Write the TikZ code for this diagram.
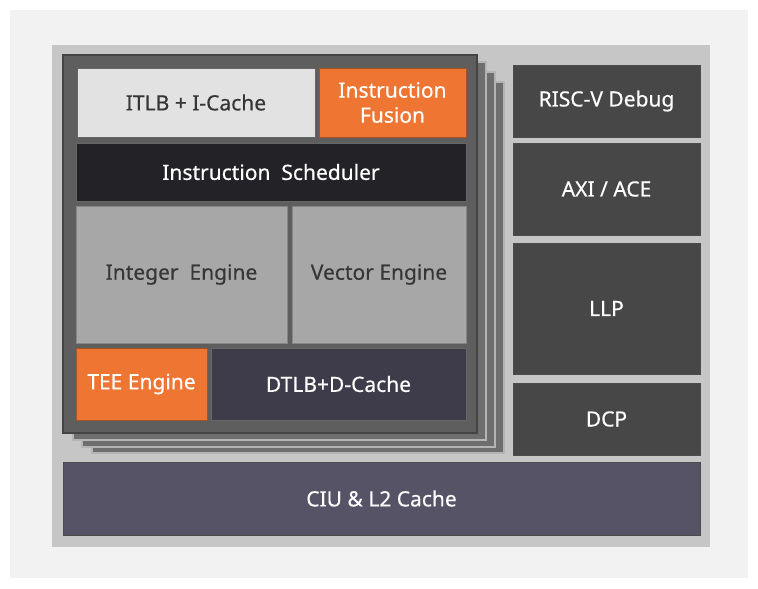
\documentclass[tikz,border=0pt]{standalone}
\usepackage{fontspec}
\setmainfont{Noto Sans}[FakeBold=0.4]
\definecolor{bgl}{HTML}{F2F2F2}
\definecolor{panel}{HTML}{C6C6C6}
\definecolor{core}{HTML}{5E5E5E}
\definecolor{coreedge}{HTML}{444444}
\definecolor{layer}{HTML}{6E6E6E}
\definecolor{layeredge}{HTML}{B4B4B4}
\definecolor{lightblk}{HTML}{E2E2E2}
\definecolor{orangeblk}{HTML}{EF7532}
\definecolor{schedblk}{HTML}{232327}
\definecolor{engblk}{HTML}{A7A7A7}
\definecolor{dtlbblk}{HTML}{3E3C4B}
\definecolor{sideblk}{HTML}{474747}
\definecolor{ciublk}{HTML}{565367}
\definecolor{darktext}{HTML}{363636}
\tikzset{
  blk/.style={rectangle, inner sep=0pt, outer sep=0pt, align=center,
    font=\fontsize{21}{25}\selectfont, draw=black!60, line width=0.8pt},
  whitetext/.style={text=white},
  greytext/.style={text=darktext},
  layerbox/.style={fill=layer, draw=layeredge, line width=1.5pt},
}
\begin{document}
\begin{tikzpicture}[x=1pt,y=-1pt]
\useasboundingbox (0,0) rectangle (758,589);
\fill[white] (0,0) rectangle (758,589);
\fill[bgl] (10,10) rectangle (748,578);
\fill[panel] (52,45) rectangle (710,547);
% stacked core layers
\draw[layerbox] (92,82) rectangle (504,453);
\draw[layerbox] (82,72) rectangle (495,447);
\draw[layerbox] (73,62) rectangle (486,440);
\draw[fill=core, draw=coreedge, line width=2pt] (63,55) rectangle (477,433);
% core blocks
\node[blk, greytext, fill=lightblk, minimum width=238pt, minimum height=69pt] (itlb) at (196,102.5) {ITLB + I-Cache};
\node[blk, whitetext, fill=orangeblk, draw=orangeblk!70!black, minimum width=147pt, minimum height=69pt] (fusion) at (392.5,102.5) {Instruction\\Fusion};
\node[blk, whitetext, fill=schedblk, minimum width=390pt, minimum height=58pt] (sched) at (271,172) {Instruction\ \ Scheduler};
\node[blk, greytext, fill=engblk, draw=engblk!80!black, minimum width=211pt, minimum height=137pt] (int) at (181.5,274.5) {Integer\ \ Engine};
\node[blk, greytext, fill=engblk, draw=engblk!80!black, minimum width=174pt, minimum height=137pt] (vec) at (379,274.5) {Vector Engine};
\node[blk, whitetext, fill=orangeblk, draw=orangeblk!70!black, minimum width=131pt, minimum height=72pt] (tee) at (141.5,384) {TEE Engine};
\node[blk, whitetext, fill=dtlbblk, minimum width=255pt, minimum height=72pt] (dtlb) at (338.5,384) {DTLB+D-Cache};
% side blocks
\node[blk, whitetext, fill=sideblk, draw=black!70, minimum width=187pt, minimum height=72pt] (dbg) at (606.5,101) {RISC-V Debug};
\node[blk, whitetext, fill=sideblk, draw=black!70, minimum width=187pt, minimum height=92pt] (axi) at (606.5,189) {AXI / ACE};
\node[blk, whitetext, fill=sideblk, draw=black!70, minimum width=187pt, minimum height=131pt] (llp) at (606.5,308.5) {LLP};
\node[blk, whitetext, fill=sideblk, draw=black!70, minimum width=187pt, minimum height=72pt] (dcp) at (606.5,419) {DCP};
% L2
\node[blk, whitetext, fill=ciublk, draw=black!70, minimum width=637pt, minimum height=73pt] (ciu) at (381.5,498.5) {CIU \& L2 Cache};
\end{tikzpicture}
\end{document}
